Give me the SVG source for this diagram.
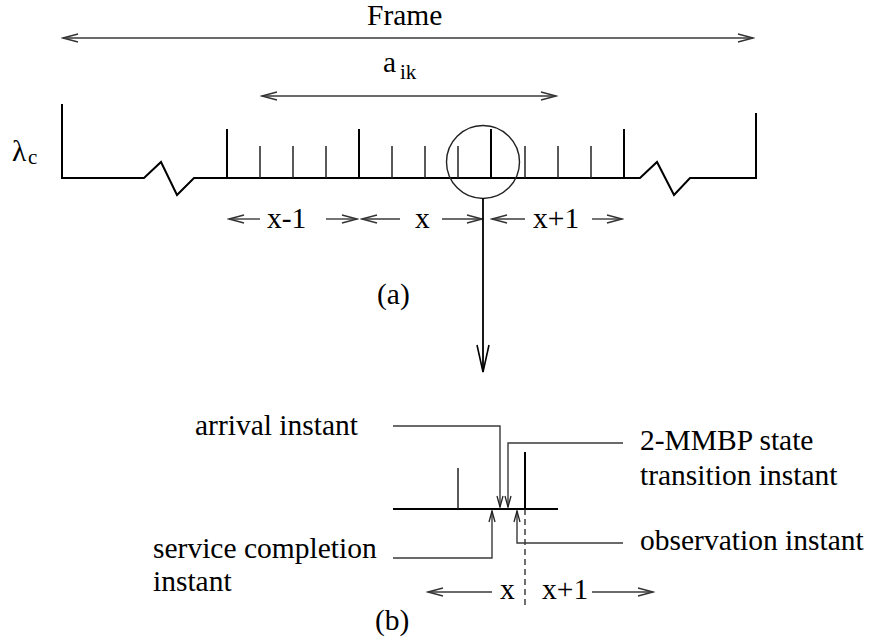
<svg xmlns="http://www.w3.org/2000/svg" width="871" height="644" viewBox="0 0 871 644">
<defs>
<style>
text{font-family:"Liberation Serif","DejaVu Serif",serif;font-size:29.5px;fill:#000}
.sub{font-size:21px}
.thin{fill:none;stroke:#3a3a3a;stroke-width:1.4}
.bold{fill:none;stroke:#000;stroke-width:2}
.tick{fill:none;stroke:#222;stroke-width:1.5}
.dash{fill:none;stroke:#222;stroke-width:1.3;stroke-dasharray:6 4}
</style>
<marker id="ah" viewBox="-16 -6 18 12" markerWidth="18" markerHeight="12" refX="0" refY="0" orient="auto-start-reverse" markerUnits="userSpaceOnUse"><path d="M-15,-4 L0,0 L-15,4" fill="none" stroke="#333" stroke-width="1.3"/></marker>
<marker id="sh" viewBox="-13 -5 15 10" markerWidth="15" markerHeight="10" refX="0" refY="0" orient="auto-start-reverse" markerUnits="userSpaceOnUse"><path d="M-11,-3 L0,0 L-11,3" fill="none" stroke="#222" stroke-width="1.3"/></marker>
<marker id="lh" viewBox="-30 -8 32 16" markerWidth="32" markerHeight="16" refX="0" refY="0" orient="auto" markerUnits="userSpaceOnUse"><path d="M-27,-6 L0,0 L-27,6" fill="none" stroke="#000" stroke-width="1.6"/></marker>
</defs>

<g id="frame-label">
<text x="367" y="25" font-family="Liberation Serif, serif">Frame</text>
</g>
<g id="aik-label">
<text x="383" y="72" font-family="Liberation Serif, serif">a</text><text class="sub" x="400" y="79" font-family="Liberation Serif, serif">ik</text>
</g>
<g id="lambda-label">
<text x="12" y="161" font-family="Liberation Serif, serif">λ</text><text class="sub" x="28" y="164" font-family="Liberation Serif, serif">c</text>
</g>

<g id="timeline-a">
<polyline class="bold" points="62,104 62,178 144,178 161,162 177,195 194,178 640,178 657,162 674,195 690,178 756,178 756,113"/>
<g class="bold">
<line x1="227" y1="129" x2="227" y2="178"/>
<line x1="359" y1="129" x2="359" y2="178"/>
<line x1="491" y1="129" x2="491" y2="178"/>
<line x1="624" y1="129" x2="624" y2="178"/>
</g>
<g class="tick">
<line x1="260" y1="146" x2="260" y2="178"/>
<line x1="293" y1="146" x2="293" y2="178"/>
<line x1="326" y1="146" x2="326" y2="178"/>
<line x1="392" y1="146" x2="392" y2="178"/>
<line x1="425" y1="146" x2="425" y2="178"/>
<line x1="458" y1="146" x2="458" y2="178"/>
<line x1="525" y1="146" x2="525" y2="178"/>
<line x1="558" y1="146" x2="558" y2="178"/>
<line x1="591" y1="146" x2="591" y2="178"/>
</g>
<circle cx="483" cy="162" r="36.5" fill="none" stroke="#222" stroke-width="1.4"/>
</g>

<g id="slot-labels-a" font-family="Liberation Serif, serif">
<text x="267" y="228" font-family="Liberation Serif, serif">x-1</text>
<text x="415" y="228" font-family="Liberation Serif, serif">x</text>
<text x="533" y="228" font-family="Liberation Serif, serif">x+1</text>
</g>
<g id="caption-a"><text x="377" y="304" font-family="Liberation Serif, serif">(a)</text></g>

<g id="part-b">
<line class="bold" x1="393" y1="509" x2="558" y2="509"/>
<line class="tick" x1="458" y1="468" x2="458" y2="509"/>
<line class="bold" x1="525" y1="452" x2="525" y2="509"/>
<line class="dash" x1="525" y1="509" x2="525" y2="606"/>
<text x="195" y="435" font-family="Liberation Serif, serif">arrival instant</text>
<text x="640" y="450" font-family="Liberation Serif, serif">2-MMBP state</text>
<text x="640" y="485" font-family="Liberation Serif, serif">transition instant</text>
<text x="153" y="558" font-family="Liberation Serif, serif">service completion</text>
<text x="153" y="591" font-family="Liberation Serif, serif">instant</text>
<text x="640" y="550" font-family="Liberation Serif, serif">observation instant</text>
<text x="500" y="599" font-family="Liberation Serif, serif">x</text>
<text x="542" y="599" font-family="Liberation Serif, serif">x+1</text>
</g>
<g id="caption-b"><text x="375" y="630" font-family="Liberation Serif, serif">(b)</text></g>

<g id="connectors">
<line class="thin" x1="63" y1="38" x2="753" y2="38" marker-start="url(#ah)" marker-end="url(#ah)"/>
<line class="thin" x1="262" y1="96" x2="556" y2="96" marker-start="url(#ah)" marker-end="url(#ah)"/>
<line class="thin" x1="229" y1="219" x2="260" y2="219" marker-start="url(#ah)"/>
<line class="thin" x1="326" y1="219" x2="357" y2="219" marker-end="url(#ah)"/>
<line class="thin" x1="362" y1="219" x2="400" y2="219" marker-start="url(#ah)"/>
<line class="thin" x1="442" y1="219" x2="482" y2="219" marker-end="url(#ah)"/>
<line class="thin" x1="492" y1="219" x2="525" y2="219" marker-start="url(#ah)"/>
<line class="thin" x1="592" y1="219" x2="622" y2="219" marker-end="url(#ah)"/>
<line x1="483" y1="198" x2="483" y2="372" stroke="#000" stroke-width="1.8" marker-end="url(#lh)"/>
<polyline class="thin" points="393,426 500,426 500,507" marker-end="url(#sh)"/>
<polyline class="thin" points="623,443 508,443 508,507" marker-end="url(#sh)"/>
<polyline class="thin" points="393,558 492,558 492,511" marker-end="url(#sh)"/>
<polyline class="thin" points="623,543 517,543 517,511" marker-end="url(#sh)"/>
<line class="thin" x1="428" y1="592" x2="492" y2="592" marker-start="url(#ah)"/>
<line class="thin" x1="592" y1="592" x2="653" y2="592" marker-end="url(#ah)"/>
</g>
</svg>
